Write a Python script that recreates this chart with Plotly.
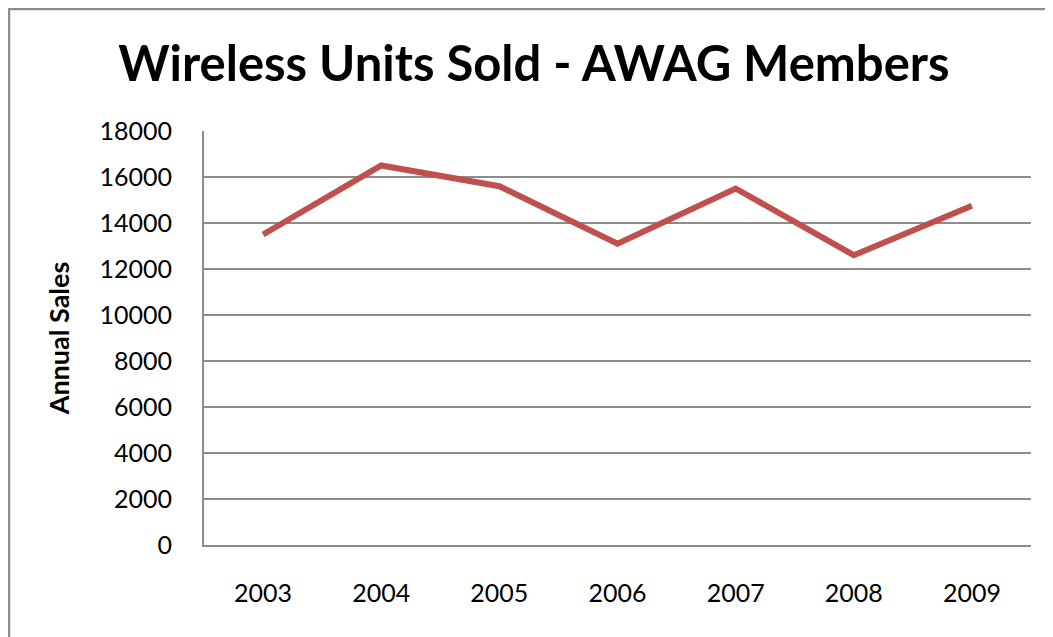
import plotly.graph_objects as go

years = ["2003", "2004", "2005", "2006", "2007", "2008", "2009"]
sales = [13500, 16500, 15600, 13100, 15500, 12600, 14750]
y_ticks = [0, 2000, 4000, 6000, 8000, 10000, 12000, 14000, 16000, 18000]

fig = go.Figure()
fig.add_trace(go.Scatter(
    x=years, y=sales, mode="lines",
    line=dict(color="#C0504D", width=6),
    showlegend=False, hoverinfo="x+y",
))

FONT = "Lato"
W, H = 1045, 629
L, R, T, B = 196, 22, 123, 92
pw, ph = W - L - R, H - T - B

fig.update_layout(
    width=W, height=H,
    margin=dict(l=L, r=R, t=T, b=B),
    paper_bgcolor="white", plot_bgcolor="white",
    title=dict(text="<b>Wireless Units Sold - AWAG Members</b>",
               x=0.5033, xanchor="center", y=0.912, yanchor="middle",
               font=dict(family=FONT, size=49, color="black")),
    font=dict(family=FONT, color="black"),
    xaxis=dict(type="category", range=[-0.5, 6.5], showgrid=False,
               showline=True, linecolor="#8c8c8c", linewidth=2,
               ticks="", ticklabelstandoff=25,
               tickfont=dict(size=25, family=FONT, color="black"),
               zeroline=False, fixedrange=True),
    yaxis=dict(range=[0, 18000], tickvals=y_ticks, tickformat="d",
               showgrid=True, gridcolor="#8c8c8c", gridwidth=2,
               showline=True, linecolor="#8c8c8c", linewidth=2,
               ticks="", ticklabelstandoff=25,
               tickfont=dict(size=25, family=FONT, color="black"),
               title=dict(text="<b>Annual Sales</b>", standoff=22,
                          font=dict(size=27, family=FONT, color="black")),
               zeroline=False, fixedrange=True),
    shapes=[dict(type="rect", xref="paper", yref="paper",
                 x0=(1 - L) / pw, x1=(W + 20 - L) / pw,
                 y0=-(B + 20) / ph, y1=1 + (T - 1) / ph,
                 line=dict(color="#8c8c8c", width=2.5), layer="below")],
)

fig.write_html("out.html")
